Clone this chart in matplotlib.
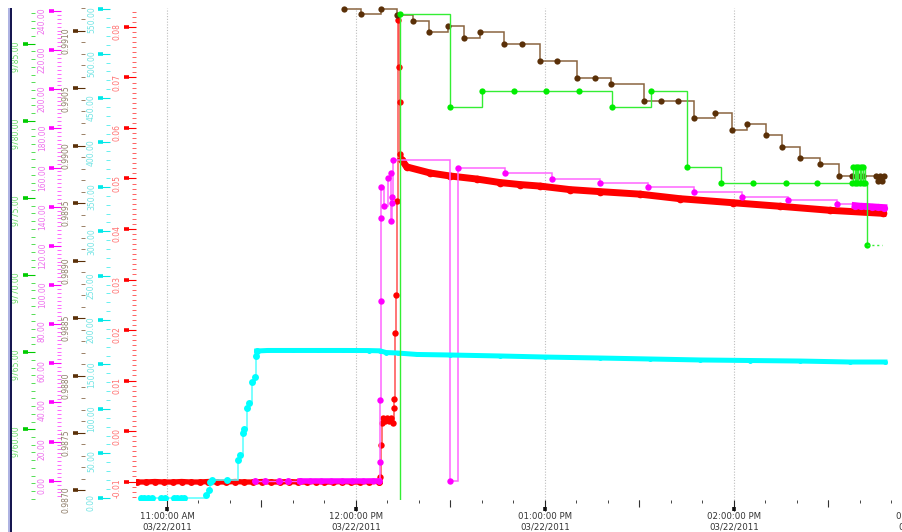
import matplotlib
matplotlib.use("Agg")
import matplotlib.pyplot as plt
import matplotlib.dates as mdates
from matplotlib.ticker import MultipleLocator, FormatStrFormatter
from matplotlib.patches import Rectangle
import pandas as pd

DAY = "2011-03-22 "

# ---------------- data (times HH:MM:SS on 03/22/2011) ----------------
# red series (red axis, -0.01 .. 0.08)
red_base_time = ["10:50:30", "10:53:20", "10:56:10", "10:59:00", "11:01:50", "11:04:40", "11:07:30",
                 "11:10:20", "11:13:10", "11:16:00", "11:18:50", "11:21:40", "11:24:30", "11:27:20",
                 "11:30:10", "11:33:00", "11:35:50", "11:38:40", "11:41:30", "11:44:20", "11:47:10",
                 "11:50:00", "11:52:50", "11:55:40", "11:58:30", "12:01:20", "12:04:10", "12:07:10"]
red_base_value = [-0.0101, -0.0101, -0.0100, -0.0101, -0.0101, -0.0100, -0.0101,
                  -0.0101, -0.0100, -0.0101, -0.0101, -0.0100, -0.0101, -0.0101,
                  -0.0100, -0.0101, -0.0101, -0.0100, -0.0101, -0.0101, -0.0100,
                  -0.0101, -0.0101, -0.0100, -0.0101, -0.0101, -0.0100, -0.0100]
red_jump_time = ["12:07:10", "12:07:37", "12:07:56", "12:08:10", "12:08:34", "12:09:12", "12:09:50",
                 "12:10:29", "12:11:07", "12:11:45", "12:12:04", "12:12:10", "12:12:23", "12:12:42",
                 "12:13:01", "12:13:26", "12:13:39", "12:13:52", "12:14:04", "12:14:31"]
red_jump_value = [-0.0100, -0.0091, -0.0028, 0.0015, 0.0026, 0.0020, 0.0026,
                  0.0020, 0.0026, 0.0016, 0.0046, 0.0064, 0.0194, 0.0269,
                  0.0455, 0.0813, 0.0721, 0.0652, 0.0549, 0.0537]
red_decay_time = ["12:14:31", "12:16:06", "12:23:30", "12:29:50", "12:38:19", "12:45:43", "12:52:04",
                  "12:58:25", "13:07:56", "13:17:28", "13:30:10", "13:42:52", "13:59:41", "14:14:36",
                  "14:30:29", "14:47:18"]
red_decay_value = [0.0537, 0.0523, 0.0511, 0.0505, 0.0499, 0.0492, 0.0488,
                   0.0485, 0.0478, 0.0474, 0.0469, 0.0460, 0.0452, 0.0445,
                   0.0437, 0.0431]

# magenta series (magenta axis, 0 .. 240)
magenta_lead_time = ["11:27:56", "11:31:07", "11:35:33", "11:38:25", "11:42:13"]
magenta_lead_value = [0.0, 0.0, 0.0, 0.0, 0.0]
magenta_base_time = ["11:42:13", "11:45:30", "11:48:50", "11:52:10", "11:55:30", "11:58:50",
                     "12:02:10", "12:05:30", "12:07:18"]
magenta_base_value = [0.0, 0.0, 0.0, 0.0, 0.0, 0.0, 0.0, 0.0, 0.0]
magenta_jump_time = ["12:07:18", "12:07:37", "12:07:43", "12:07:48", "12:07:53", "12:07:58", "12:08:53",
                     "12:10:15", "12:11:07", "12:11:13", "12:11:20", "12:11:30", "12:11:39", "12:30:00",
                     "12:32:17", "12:47:18", "13:02:19", "13:17:34", "13:32:36", "13:47:24", "14:02:26",
                     "14:17:14", "14:32:36", "14:38:25"]
magenta_jump_value = [0.0, 9.7, 41.2, 91.9, 134.1, 149.9, 140.4,
                      154.8, 157.4, 132.7, 141.7, 145.1, 163.9, 0.0,
                      159.6, 157.1, 154.3, 152.1, 149.9, 147.4, 145.1,
                      143.3, 141.2, 140.6]
magenta_tail_time = ["14:38:25", "14:40:10", "14:42:00", "14:43:50", "14:45:40", "14:47:37"]
magenta_tail_value = [140.6, 140.3, 140.2, 140.0, 139.8, 139.6]

# cyan series (cyan axis, 0 .. 550)
cyan_lead_time = ["10:51:45", "10:52:42", "10:53:58", "10:55:14", "10:58:06", "10:59:22", "11:02:13",
                  "11:03:10", "11:04:27", "11:05:24", "11:12:23", "11:13:14", "11:13:45", "11:14:11",
                  "11:18:57", "11:22:38", "11:23:10", "11:24:13", "11:24:27", "11:25:18", "11:26:08",
                  "11:26:53", "11:27:56", "11:28:15", "11:28:29"]
cyan_lead_value = [0.0, 0.0, 0.0, 0.0, 0.0, 0.0, 0.0,
                   0.0, 0.0, 0.0, 3.6, 9.0, 18.0, 19.9,
                   19.9, 42.5, 48.1, 72.5, 77.0, 100.7, 106.3,
                   130.6, 136.3, 159.9, 165.2]
cyan_band_time = ["11:28:29", "11:32:00", "11:40:00", "11:48:00", "11:56:00", "12:04:00", "12:07:37",
                  "12:09:31", "12:13:20", "12:19:22", "12:29:50", "12:45:43", "13:00:00", "13:17:28",
                  "13:33:20", "13:49:13", "14:05:05", "14:20:57", "14:36:50", "14:47:56"]
cyan_band_value = [165.2, 165.8, 165.8, 165.8, 165.8, 165.7, 165.4,
                   163.5, 162.9, 161.3, 160.7, 159.6, 158.4, 157.3,
                   156.2, 155.1, 154.5, 153.9, 152.8, 152.8]

# brown series (brown axis, 0.9870 .. 0.9910)
brown_time = ["11:56:11", "12:01:29", "12:07:50", "12:12:55", "12:18:00", "12:23:16", "12:29:07",
              "12:34:11", "12:39:31", "12:47:05", "12:52:36", "12:58:25", "13:03:43", "13:10:15",
              "13:15:52", "13:20:57", "13:31:31", "13:36:50", "13:42:08", "13:47:24", "13:53:58",
              "13:59:16", "14:04:08", "14:10:04", "14:15:20", "14:20:50", "14:27:14", "14:33:26",
              "14:37:28", "14:39:22", "14:41:03", "14:45:05", "14:45:43", "14:46:21", "14:46:59",
              "14:47:37"]
brown_value = [0.99119, 0.99115, 0.99119, 0.99114, 0.99109, 0.99099, 0.99104,
               0.99094, 0.99099, 0.99089, 0.99089, 0.99074, 0.99074, 0.99059,
               0.99059, 0.99054, 0.99039, 0.99039, 0.99039, 0.99024, 0.99029,
               0.99014, 0.99019, 0.99009, 0.98999, 0.98989, 0.98984, 0.98974,
               0.98974, 0.98974, 0.98974, 0.98974, 0.98969, 0.98974, 0.98969,
               0.98974]

# green series (green axis, 9760 .. 9785)
green_time = ["12:13:50", "12:13:58", "12:29:51", "12:40:06", "12:50:10", "13:00:19", "13:10:53",
              "13:21:10", "13:33:39", "13:45:10", "13:55:47", "14:05:56", "14:16:25", "14:26:15",
              "14:37:34", "14:37:56", "14:38:25", "14:38:44", "14:39:08", "14:39:31", "14:40:00",
              "14:40:19", "14:40:52", "14:41:07", "14:41:35", "14:42:08"]
green_value = [9750.00, 9786.93, 9780.92, 9781.93, 9781.93, 9781.93, 9781.93,
               9780.92, 9781.95, 9776.99, 9775.99, 9775.99, 9775.99, 9775.99,
               9775.99, 9777.00, 9776.00, 9777.00, 9776.00, 9777.00, 9776.00,
               9777.00, 9776.00, 9777.00, 9776.00, 9771.95]
green_tail_time = ["14:42:08", "14:46:59"]

x_tick_format = "%I:%M:%S %p\n%m/%d/%Y"


def ts(lst):
    return pd.to_datetime([DAY + s for s in lst])


# ---------------- figure / layout ----------------
W, H = 903, 532
fig = plt.figure(figsize=(W / 100, H / 100), dpi=100)
L, R, T, B = 136, 960, 8, 500
PXMIN = 3.15
ax = fig.add_axes([L / W, (H - B) / H, (R - L) / W, (B - T) / H])
for s in ax.spines.values():
    s.set_visible(False)
ax.set_yticks([])
x0 = pd.Timestamp(DAY + "10:50:10")
x1 = x0 + pd.Timedelta(minutes=(R - L) / PXMIN)
ax.set_xlim(x0, x1)
ax.xaxis.set_major_locator(mdates.HourLocator())
ax.xaxis.set_major_formatter(mdates.DateFormatter(x_tick_format))
ax.xaxis.set_minor_locator(mdates.MinuteLocator(byminute=range(0, 60, 10)))
ax.tick_params(axis="x", which="major", length=7.6, width=0.8, color="#222222",
               labelsize=6.2, labelcolor="#333333", pad=1.2)
ax.tick_params(axis="x", which="minor", length=2.2, width=0.7, color="#444444")
ax.grid(axis="x", which="major", color="#bdbdbd", linestyle=(0, (1, 1.5)), linewidth=0.8)

xl = ax.get_xlim()
# 30-minute ticks
axm = ax.twiny()
axm.set_xlim(xl)
axm.xaxis.set_ticks_position("bottom")
axm.xaxis.set_major_locator(mdates.MinuteLocator(byminute=[30]))
axm.tick_params(axis="x", length=5.0, width=0.8, color="#333333", labelbottom=False, labeltop=False)
for s in axm.spines.values():
    s.set_visible(False)
# thick block at end of hour ticks
axb = ax.twiny()
axb.set_xlim(xl)
axb.xaxis.set_ticks_position("bottom")
axb.spines["bottom"].set_position(("outward", 7.6))
axb.xaxis.set_major_locator(mdates.HourLocator())
axb.tick_params(axis="x", direction="in", length=3.0, width=2.6, color="#111111",
                labelbottom=False, labeltop=False)
for s in axb.spines.values():
    s.set_visible(False)


def make_yaxis(offset_px, ylim, major, minor, fmt, tick_col, minor_col, label_col):
    a = ax.twinx()
    a.set_ylim(*ylim)
    a.yaxis.set_ticks_position("left")
    a.spines["left"].set_position(("outward", offset_px * 0.72))
    for s in a.spines.values():
        s.set_visible(False)
    a.yaxis.set_major_locator(MultipleLocator(major))
    a.yaxis.set_minor_locator(MultipleLocator(minor))
    a.yaxis.set_major_formatter(FormatStrFormatter(fmt))
    a.tick_params(axis="y", which="major", length=8.6, width=0.8, color=tick_col,
                  labelcolor=label_col, labelsize=5.5, labelrotation=90, pad=1.5)
    a.tick_params(axis="y", which="minor", length=3.2, width=0.7, color=minor_col)
    b = ax.twinx()
    b.set_ylim(*ylim)
    b.yaxis.set_ticks_position("left")
    b.spines["left"].set_position(("outward", offset_px * 0.72 + 8.6))
    for s in b.spines.values():
        s.set_visible(False)
    b.yaxis.set_major_locator(MultipleLocator(major))
    b.yaxis.set_minor_locator(plt.NullLocator())
    b.tick_params(axis="y", which="major", direction="in", length=3.6, width=2.6,
                  color=tick_col, labelleft=False, labelright=False)
    return a


ax_red = make_yaxis(0, (-0.013663, 0.083762), 0.01, 0.001, "%.2f", "#ff0000", "#ff6060", "#ff6f6f")
ax_mag = make_yaxis(75, (-9.86, 241.54), 20, 2, "%.2f", "#ff00ff", "#ff66ff", "#ee70ee")
ax_cyan = make_yaxis(26, (-2.59, 551.46), 50, 10, "%.2f", "#00e8e8", "#66f0f0", "#70e4e4")
ax_brown = make_yaxis(51, (0.986916, 0.991200), 0.0005, 0.0001, "%.4f", "#5a3008", "#9a8066", "#8c7a66")
ax_green = make_yaxis(101, (9755.416, 9787.315), 5, 0.5, "%.2f", "#00cc00", "#55dd55", "#66d866")


def draw(a, t, v, line_col, mark_col, lw=1.1, ms=4.3, steps=True, clip=True):
    a.plot(ts(t), v, drawstyle="steps-post" if steps else "default", color=line_col, lw=lw,
           marker="o", ms=ms, mfc=mark_col, mec=mark_col, mew=0, solid_joinstyle="miter",
           clip_on=clip)


# red (bottom-most)
draw(ax_red, red_base_time, red_base_value, "#ff0000", "#ff0000", lw=3.8, ms=5, steps=False)
draw(ax_red, red_jump_time, red_jump_value, "#ff5050", "#ff0000", lw=1.1, ms=4.6)
draw(ax_red, red_decay_time, red_decay_value, "#ff0000", "#ff0000", lw=5.0, ms=5.5, steps=False)
# magenta
draw(ax_mag, magenta_lead_time, magenta_lead_value, "#ff55ff", "#ff00ff", lw=1.0, ms=5)
draw(ax_mag, magenta_base_time, magenta_base_value, "#ff00ff", "#ff00ff", lw=4.0, ms=4.5, steps=False)
draw(ax_mag, magenta_jump_time, magenta_jump_value, "#ff66ff", "#ff00ff", lw=1.1, ms=4.6)
draw(ax_mag, magenta_tail_time, magenta_tail_value, "#ff00ff", "#ff00ff", lw=4.8, ms=5.2, steps=False)
# cyan
draw(ax_cyan, cyan_lead_time, cyan_lead_value, "#55ffff", "#00ffff", lw=1.1, ms=5)
draw(ax_cyan, cyan_band_time, cyan_band_value, "#00ffff", "#00ffff", lw=3.6, ms=3.6, steps=False)
# brown
draw(ax_brown, brown_time, brown_value, "#8a6440", "#5a3008", lw=1.1, ms=4.5, clip=False)
# green
draw(ax_green, green_time, green_value, "#33ee33", "#00ee00", lw=1.0, ms=4.5)
ax_green.plot(ts(green_tail_time), [green_value[-1]] * len(green_tail_time),
              color="#33ee33", lw=1.0, ls=(0, (1.5, 2.0)))

# dark frame bar on far left
fig.add_artist(Rectangle((8 / W, 0), 2.3 / W, (H - 8) / H, transform=fig.transFigure,
                         facecolor="#aeb3e2", edgecolor="none"))
fig.add_artist(Rectangle((10.3 / W, 0), 1.6 / W, (H - 8) / H, transform=fig.transFigure,
                         facecolor="#161650", edgecolor="none"))

fig.savefig("out.png", dpi=100)
